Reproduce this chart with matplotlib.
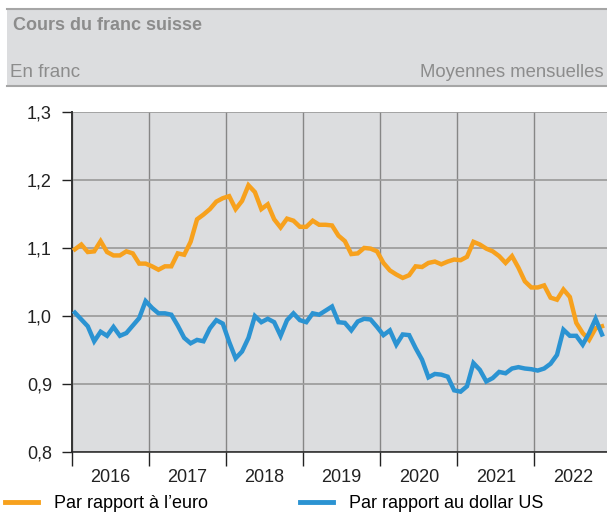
import numpy as np
import matplotlib
matplotlib.use("Agg")
import matplotlib.pyplot as plt
from matplotlib.patches import Rectangle
from matplotlib.lines import Line2D

plt.rcParams['font.family'] = ['Liberation Sans', 'DejaVu Sans']

# ========================
# DATA (moyennes mensuelles, janv. 2016 - nov. 2022)
# ========================

years = [2016, 2017, 2018, 2019, 2020, 2021, 2022]

chf_eur = [
    1.098, 1.105, 1.094, 1.095, 1.110, 1.094, 1.089, 1.089, 1.095, 1.092, 1.077, 1.077,
    1.073, 1.068, 1.073, 1.073, 1.092, 1.090, 1.109, 1.142, 1.149, 1.157, 1.168, 1.173,
    1.176, 1.157, 1.169, 1.192, 1.182, 1.157, 1.164, 1.142, 1.130, 1.143, 1.140, 1.131,
    1.131, 1.140, 1.134, 1.134, 1.133, 1.118, 1.110, 1.091, 1.092, 1.100, 1.099, 1.095,
    1.078, 1.067, 1.061, 1.056, 1.060, 1.073, 1.072, 1.078, 1.080, 1.076, 1.080, 1.083,
    1.082, 1.087, 1.109, 1.105, 1.099, 1.095, 1.088, 1.078, 1.088, 1.071, 1.051, 1.042,
    1.042, 1.045, 1.027, 1.024, 1.039, 1.028, 0.990, 0.975, 0.965, 0.982, 0.985,
]

chf_usd = [
    1.005, 0.995, 0.985, 0.963, 0.977, 0.971, 0.984, 0.971, 0.975, 0.986, 0.997, 1.022,
    1.012, 1.004, 1.004, 1.002, 0.986, 0.968, 0.960, 0.965, 0.963, 0.982, 0.994, 0.989,
    0.962, 0.938, 0.948, 0.968, 1.000, 0.991, 0.996, 0.991, 0.971, 0.994, 1.004, 0.994,
    0.991, 1.004, 1.002, 1.008, 1.014, 0.991, 0.990, 0.979, 0.992, 0.996, 0.995, 0.984,
    0.972, 0.979, 0.958, 0.973, 0.972, 0.953, 0.936, 0.910, 0.915, 0.914, 0.911, 0.891,
    0.889, 0.897, 0.931, 0.921, 0.904, 0.909, 0.918, 0.916, 0.923, 0.925, 0.923, 0.922,
    0.920, 0.923, 0.930, 0.943, 0.980, 0.971, 0.971, 0.958, 0.975, 0.996, 0.973,
]

y_ticks = [0.8, 0.9, 1.0, 1.1, 1.2, 1.3]
y_labels = ["0,8", "0,9", "1,0", "1,1", "1,2", "1,3"]

title = "Cours du franc suisse"
unit = "En franc"
note = "Moyennes mensuelles"
label_eur = "Par rapport à l’euro"
label_usd = "Par rapport au dollar US"

# ========================
# STYLE
# ========================

bg = "#dcdddf"
orange = "#f7a11d"
blue = "#2b93d2"
head_grey = "#8c8c8c"
ink = "#222222"

W, H = 607, 514
fig = plt.figure(figsize=(W / 100, H / 100), dpi=100)

# header band
fig.add_artist(Rectangle((7 / W, 1 - 86 / H), 1 - 7 / W, (86 - 8.5) / H,
                         transform=fig.transFigure, facecolor=bg, edgecolor="none"))
for yy in (8.5, 86):
    fig.add_artist(Line2D([7 / W, 1], [1 - yy / H, 1 - yy / H],
                          transform=fig.transFigure, color="#a6a6a6", lw=1.5))

fig.text(13 / W, 1 - 25 / H, title, fontsize=13, fontweight="bold",
         color=head_grey, va="center", ha="left")
fig.text(10 / W, 1 - 73 / H, unit, fontsize=13.5, color=head_grey,
         va="center", ha="left")
fig.text(604 / W, 1 - 73 / H, note, fontsize=13.3, color=head_grey,
         va="center", ha="right")

# ========================
# PLOT
# ========================

ax = fig.add_axes([71.7 / W, 1 - 452.3 / H, 1 - 71.7 / W, (452.3 - 111.7) / H])
ax.set_facecolor(bg)

x = 2016 + (np.arange(len(chf_eur)) + 0.5) / 12

ax.plot(x, chf_eur, color=orange, lw=3.2, solid_joinstyle="miter", zorder=3)
ax.plot(x, chf_usd, color=blue, lw=3.2, solid_joinstyle="miter", zorder=3)

ax.set_xlim(2016, 2022.94)
ax.set_ylim(0.8, 1.3)

ax.set_yticks(y_ticks)
ax.set_yticklabels(y_labels)
ax.set_xticks(years)
ax.set_xticklabels([])
ax.set_xticks([y + 0.5 for y in years], minor=True)
ax.set_xticklabels([str(y) for y in years], minor=True)

ax.tick_params(axis="y", length=7.2, width=1, color=ink, pad=7,
               labelsize=13, labelcolor=ink)
ax.tick_params(axis="x", which="major", length=10, width=1, color=ink)
ax.tick_params(axis="x", which="minor", length=0, pad=12,
               labelsize=13, labelcolor=ink)

ax.yaxis.grid(True, color="#9e9e9e", lw=1.3, zorder=1)
ax.xaxis.grid(True, which="major", color="#868686", lw=1.0, zorder=1)
ax.set_axisbelow(True)

for s in ("top", "right"):
    ax.spines[s].set_visible(False)
ax.spines["left"].set_color("#333333")
ax.spines["left"].set_linewidth(1.4)
ax.spines["bottom"].set_color(ink)
ax.spines["bottom"].set_linewidth(1.1)

# ========================
# LEGEND
# ========================

handles = [Line2D([], [], color=orange, lw=3.5),
           Line2D([], [], color=blue, lw=3.5)]
fig.legend(handles, [label_eur, label_usd], loc="center left",
           bbox_to_anchor=(0.0, 1 - 504 / H), ncol=2, frameon=False,
           fontsize=13, handlelength=1.8, handletextpad=0.9,
           columnspacing=5.1, borderaxespad=0, borderpad=0.3)

fig.savefig("out.png", dpi=100)
